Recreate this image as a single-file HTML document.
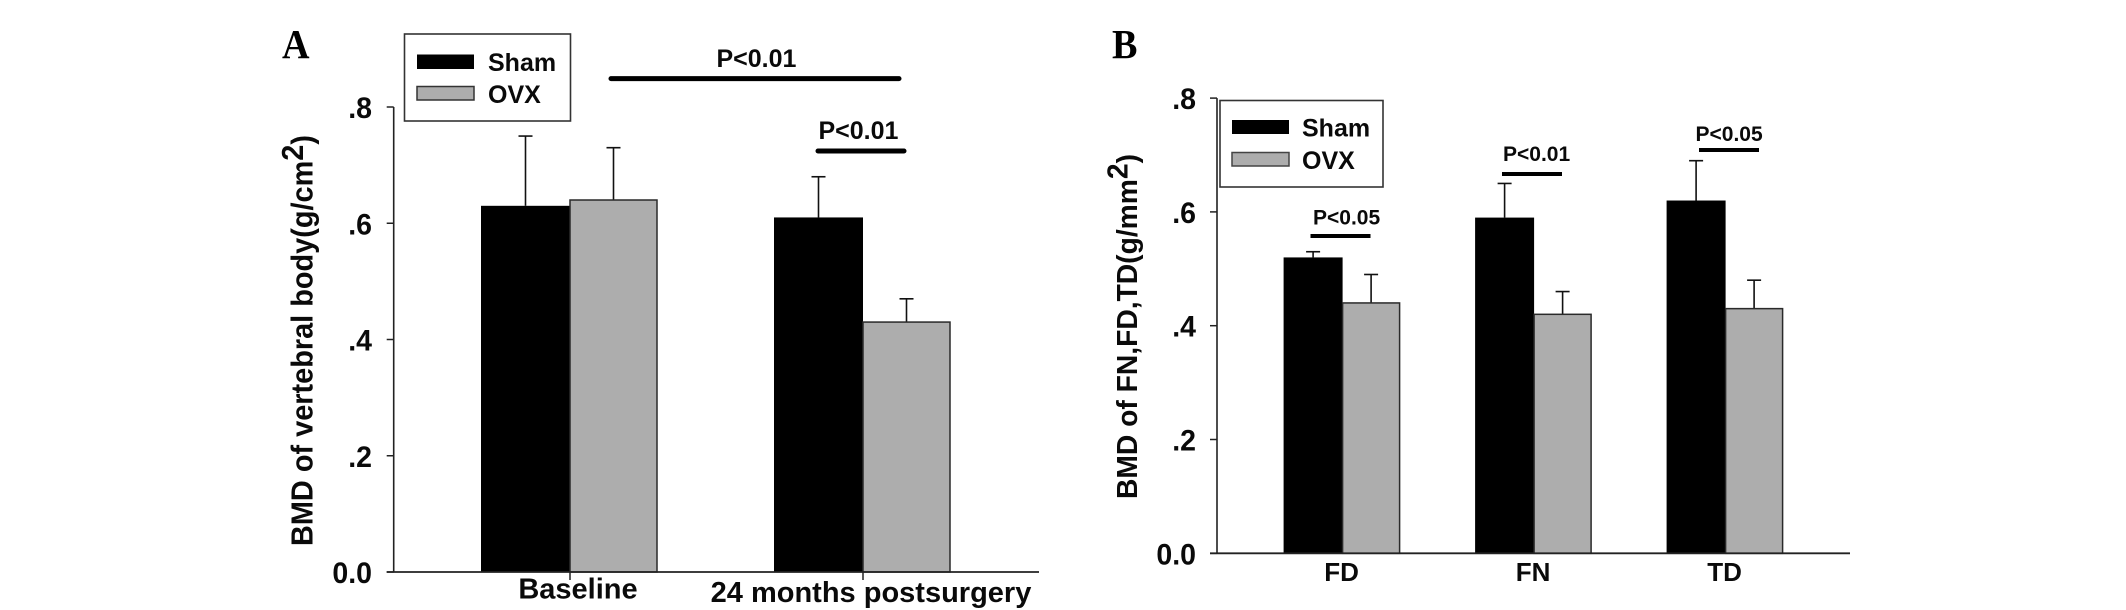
<!DOCTYPE html>
<html>
<head>
<meta charset="utf-8">
<title>BMD charts</title>
<style>
html,body{margin:0;padding:0;background:#fff;width:2126px;height:610px;overflow:hidden}
svg{display:block}
text{font-family:"Liberation Sans",sans-serif;font-weight:bold;fill:#0a0a0a}
.letter{font-family:"Liberation Serif",serif;font-size:41px;fill:#000}
.leg{font-size:25px}
.pval{font-size:25px}
.pvalb{font-size:21px}
</style>
</head>
<body>
<svg id="chart" width="2126" height="610" viewBox="0 0 2126 610" xmlns="http://www.w3.org/2000/svg">
  <rect width="2126" height="610" fill="#fff"/>
  <text class="letter" transform="translate(282,58) scale(0.93,1)">A</text>
  <text class="letter" transform="translate(1112,58) scale(0.93,1)">B</text>

  <text transform="translate(312.5,546) rotate(-90) scale(1,1.04)" font-size="29" textLength="411" lengthAdjust="spacingAndGlyphs">BMD of vertebral body(g/cm<tspan dy="-9" font-size="29">2</tspan><tspan dy="9">)</tspan></text>
  <text transform="translate(1137,499) rotate(-90) scale(1,1.03)" font-size="28" textLength="345" lengthAdjust="spacingAndGlyphs">BMD of FN,FD,TD(g/mm<tspan dy="-9" font-size="28">2</tspan><tspan dy="9">)</tspan></text>

  <g id="panelA"></g>
  <g id="panelB"></g>

  <g>
    <rect x="404.5" y="34" width="166" height="87" fill="#fff" stroke="#333" stroke-width="1.6"/>
    <rect x="417" y="54.5" width="57" height="14.5" fill="#000"/>
    <rect x="417" y="86.5" width="57" height="13.5" fill="#adadad" stroke="#333" stroke-width="1.5"/>
    <text class="leg" x="488" y="71">Sham</text>
    <text class="leg" x="488" y="103">OVX</text>
  </g>
  <g>
    <rect x="1220" y="100.5" width="163" height="86.5" fill="#fff" stroke="#333" stroke-width="1.6"/>
    <rect x="1232" y="120" width="57" height="14" fill="#000"/>
    <rect x="1232" y="152.5" width="57" height="13.5" fill="#adadad" stroke="#444" stroke-width="1.5"/>
    <text class="leg" x="1302" y="136.5">Sham</text>
    <text class="leg" x="1302" y="169">OVX</text>
  </g>

  <g stroke-linecap="round">
    <text class="pval" x="716.5" y="67">P&lt;0.01</text>
    <line x1="611" x2="899" y1="78.6" y2="78.6" stroke="#000" stroke-width="5"/>
    <text class="pval" x="818.5" y="139">P&lt;0.01</text>
    <line x1="818" x2="904" y1="151" y2="151" stroke="#000" stroke-width="5"/>
  </g>
  <g>
    <text class="pvalb" x="1313" y="224.5">P&lt;0.05</text>
    <rect x="1310.5" y="234" width="60" height="4" fill="#000"/>
    <text class="pvalb" x="1503" y="161">P&lt;0.01</text>
    <rect x="1502" y="172" width="60" height="4" fill="#000"/>
    <text class="pvalb" x="1695.5" y="141">P&lt;0.05</text>
    <rect x="1699" y="148" width="60" height="4" fill="#000"/>
  </g>
</svg>
<script>
var tickValues = [0, 0.2, 0.4, 0.6, 0.8];
var tickLabels = ['0.0', '.2', '.4', '.6', '.8'];

var categoriesA = ['Baseline', '24 months postsurgery'];
var shamA = [0.63, 0.61];
var ovxA = [0.64, 0.43];
var shamErrA = [0.12, 0.07];
var ovxErrA = [0.09, 0.04];

var categoriesB = ['FD', 'FN', 'TD'];
var shamB = [0.52, 0.59, 0.62];
var ovxB = [0.44, 0.42, 0.43];
var shamErrB = [0.01, 0.06, 0.07];
var ovxErrB = [0.05, 0.04, 0.05];

var NS = 'http://www.w3.org/2000/svg';

function make(parent, tag, attrs, text) {
  var el = document.createElementNS(NS, tag);
  for (var k in attrs) { el.setAttribute(k, attrs[k]); }
  if (text !== undefined) { el.textContent = text; }
  parent.appendChild(el);
  return el;
}

function drawPanel(root, o) {
  function y(v) { return o.y0 - v * o.pxPerUnit; }
  function xc(i) { return o.firstCenter + i * o.step; }

  o.sham.forEach(function (v, i) {
    var eTop = y(v + o.shamErr[i]);
    var stem = make(root, 'line', { x1: xc(i) - o.shamW / 2, x2: xc(i) - o.shamW / 2, y1: y(v), y2: eTop, stroke: '#111', 'stroke-width': 1.6 });
    
    
    var cap = make(root, 'line', { x1: xc(i) - o.shamW / 2 - 7, x2: xc(i) - o.shamW / 2 + 7, y1: eTop, y2: eTop, stroke: '#111', 'stroke-width': 1.6 });
    
    
    var bar = make(root, 'rect', { x: xc(i) - o.shamW, y: y(v), width: o.shamW, height: o.y0 - y(v), fill: '#000' });
    
    
  });

  o.ovx.forEach(function (v, i) {
    var eTop = y(v + o.ovxErr[i]);
    var stem = make(root, 'line', { x1: xc(i) + o.ovxW / 2, x2: xc(i) + o.ovxW / 2, y1: y(v), y2: eTop, stroke: '#111', 'stroke-width': 1.6 });
    
    
    var cap = make(root, 'line', { x1: xc(i) + o.ovxW / 2 - 7, x2: xc(i) + o.ovxW / 2 + 7, y1: eTop, y2: eTop, stroke: '#111', 'stroke-width': 1.6 });
    
    
    var bar = make(root, 'rect', { x: xc(i), y: y(v), width: o.ovxW, height: o.y0 - y(v), fill: '#adadad', stroke: '#2a2a2a', 'stroke-width': 1.5 });
    
    
  });

  var yAxis = make(root, 'line', { x1: o.axisX, x2: o.axisX, y1: y(0.8), y2: o.y0, stroke: '#222', 'stroke-width': 1.6 });
  
  
  var xAxis = make(root, 'line', { x1: o.axisX - 7, x2: o.axisEnd, y1: o.y0, y2: o.y0, stroke: '#222', 'stroke-width': 1.8 });
  
  

  tickValues.forEach(function (v, i) {
    var t = make(root, 'line', { x1: o.axisX - 7, x2: o.axisX, y1: y(v), y2: y(v), stroke: '#222', 'stroke-width': 1.5 });
    
    
    var l = make(root, 'text', {
      transform: 'translate(' + o.labelRight + ',' + (y(v) + 11) + ') scale(0.95,1)',
      'text-anchor': 'end', 'font-size': 30
    }, tickLabels[i]);
    
    
  });

  o.categories.forEach(function (c, i) {
    if (o.xTicks) {
      var t = make(root, 'line', { x1: xc(i), x2: xc(i), y1: o.y0, y2: o.y0 + 8, stroke: '#222', 'stroke-width': 1.5 });
      
      
    }
    var l = make(root, 'text', { x: xc(i) + o.catOffset, y: o.catY + i * o.catStepY, 'text-anchor': 'middle', 'font-size': o.catSize }, c);
    
    
  });
}

drawPanel(document.getElementById('panelA'), {
  categories: categoriesA, sham: shamA, ovx: ovxA, shamErr: shamErrA, ovxErr: ovxErrA,
  y0: 572, pxPerUnit: 581.25, firstCenter: 570, step: 293, shamW: 89, ovxW: 87,
  axisX: 393.7, axisEnd: 1039, labelRight: 372, xTicks: true, catOffset: 8, catY: 598.5, catStepY: 3.5, catSize: 29
});
drawPanel(document.getElementById('panelB'), {
  categories: categoriesB, sham: shamB, ovx: ovxB, shamErr: shamErrB, ovxErr: ovxErrB,
  y0: 553.3, pxPerUnit: 569, firstCenter: 1342.6, step: 191.5, shamW: 59, ovxW: 57,
  axisX: 1217, axisEnd: 1850, labelRight: 1196, xTicks: false, catOffset: -1, catY: 581, catStepY: 0, catSize: 26
});
</script>
</body>
</html>
